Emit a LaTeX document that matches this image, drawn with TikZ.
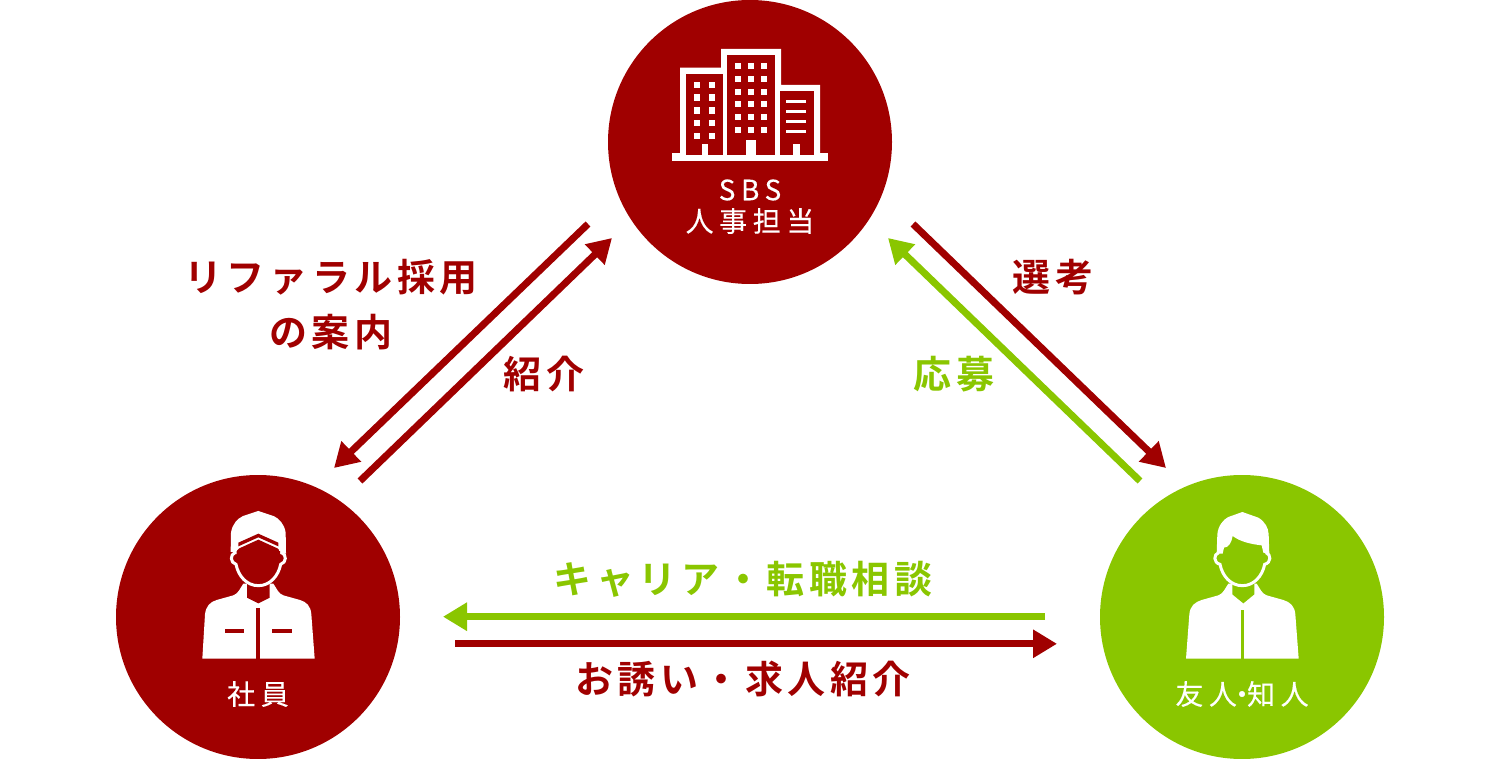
\documentclass[tikz,border=0pt]{standalone}
\usepackage{fontspec}
\usetikzlibrary{arrows.meta}
\newfontfamily\lblfont[LetterSpace=12]{Noto Sans CJK JP Bold}
\newfontfamily\capfont[LetterSpace=20,FakeBold=0.25]{Noto Sans CJK JP}
\definecolor{dred}{HTML}{A00000}
\definecolor{lgreen}{HTML}{8AC600}
\tikzset{
  hub/.style={circle,minimum size=142pt,inner sep=0pt,fill=#1},
  arr/.style={line width=3.5pt,draw=#1,-{Triangle[length=12pt,width=13.5pt]},shorten >=0pt},
  lbl/.style={font=\lblfont\fontsize{19pt}{23pt}\selectfont,text=#1,inner sep=0pt,align=center},
  captext/.style={font=\capfont\fontsize{14pt}{17pt}\selectfont,text=white,inner sep=0pt},
  zoomed/.style={x=0.16667pt,y=-0.16667pt},
}
\begin{document}
\begin{tikzpicture}[x=0.5pt,y=-0.5pt]
\useasboundingbox (0,0) rectangle (1500,759);
\node[hub=dred] (hr) at (750,142) {};
\node[hub=dred] (emp) at (258,617) {};
\node[hub=lgreen] (fr) at (1242,617) {};
% building
\begin{scope}[shift={(660,30)},zoomed]
\fill[white] (37,370) rectangle (503,392);
\fill[white] (60,375) -- (60,113) -- (183,113) -- (183,57) -- (363,57) -- (363,165) -- (480,165) -- (480,375) -- cycle;
\fill[dred] (78,132) rectangle (190,375);
\fill[dred] (202,76) rectangle (345,375);
\fill[dred] (359,184) rectangle (462,375);
\foreach \yy in {155,193,232,270,308} \foreach \xx in {101,146} \fill[white] (\xx,\yy) rectangle ++(19,19);
\foreach \yy in {100,138,176,214,252,290} \foreach \xx in {226,265,304} \fill[white] (\xx,\yy) rectangle ++(18,18);
\foreach \yy in {210,240,270,300} \fill[white] (378,\yy) rectangle (438,\yy+10);
\fill[white] (125,343) rectangle (144,375);
\fill[white] (259,331) rectangle (289,375);
\fill[white] (400,343) rectangle (419,375);
\end{scope}
% employee
\begin{scope}[shift={(180,501)},zoomed]
\fill[white] (67,473) -- (75,340) .. controls (78,315) and (90,303) .. (110,297) -- (160,283) .. controls (175,278) and (180,262) .. (190,248) -- (280,248) .. controls (290,262) and (295,278) .. (310,283) -- (360,297) .. controls (380,303) and (392,315) .. (394,340) -- (404,473) -- cycle;
\fill[dred] (201,246) -- (201,290) -- (235,307) -- (269,290) -- (269,246) -- cycle;
\fill[dred] (229,320) rectangle (240,475);
\fill[dred] (134,384) rectangle (193,395);
\fill[dred] (277,384) rectangle (336,395);
\fill[white,draw=white,line width=1pt] (155,150) -- (156,95) .. controls (160,70) and (175,55) .. (190,48) -- (235,33) -- (280,48) .. controls (295,55) and (310,70) .. (314,95) -- (315,155) -- cycle;
\filldraw[fill=dred,draw=white,line width=1.5pt] (165,155) .. controls (150,160) and (150,185) .. (168,190) .. controls (175,225) and (200,254) .. (235,254) .. controls (270,254) and (295,225) .. (302,190) .. controls (320,185) and (320,160) .. (305,155) -- cycle;
\fill[dred] (170,150) -- (178,142) -- (235,116) -- (292,142) -- (300,150) -- (300,170) -- (170,170) -- cycle;
\fill[dred] (175,125) -- (235,98) -- (295,125) -- (295,136) -- (235,109) -- (175,136) -- cycle;
\fill[white] (160,130) rectangle (172,150);
\fill[white] (298,130) rectangle (310,150);
\end{scope}
% friend
\begin{scope}[shift={(1160,501)},zoomed]
\fill[white] (78,473) -- (88,340) .. controls (90,315) and (105,303) .. (125,297) -- (175,283) .. controls (190,278) and (195,262) .. (205,248) -- (290,248) .. controls (300,262) and (305,278) .. (320,283) -- (370,297) .. controls (390,303) and (404,315) .. (406,340) -- (416,473) -- cycle;
\fill[lgreen] (217,246) -- (217,280) -- (250,307) -- (283,280) -- (283,246) -- cycle;
\fill[lgreen] (242,327) rectangle (252,475);
\fill[lgreen] (176,155) .. controls (160,160) and (160,185) .. (180,190) .. controls (187,225) and (212,254) .. (247,254) .. controls (282,254) and (307,225) .. (314,190) .. controls (334,185) and (334,160) .. (318,155) -- cycle;
\draw[white,line width=1.5pt] (176,155) .. controls (160,160) and (160,185) .. (180,190) .. controls (187,225) and (212,254) .. (247,254) .. controls (282,254) and (307,225) .. (314,190) .. controls (334,185) and (334,160) .. (318,155);
\fill[white] (170,158) -- (172,100) .. controls (174,75) and (190,55) .. (205,48) -- (247,33) -- (295,50) .. controls (315,62) and (325,80) .. (326,100) -- (328,160) -- (310,155) -- (305,133) .. controls (275,130) and (240,122) .. (218,105) .. controls (215,125) and (205,140) .. (192,140) -- (188,158) -- cycle;
\end{scope}
% texts in circles
\node[captext] (t1) at (750,190) {SBS};
\node[captext] (t2) at (750,221) {人事担当};
\node[captext] (t3) at (258,694) {社員};
\node[captext] (t4) at (1242,694) {友人\hspace{-.32em}・\hspace{-.32em}知人};
% arrows
\coordinate (a1) at (588,224); \coordinate (a2) at (334,468);
\coordinate (b1) at (360,481); \coordinate (b2) at (612,238);
\coordinate (c1) at (913,224); \coordinate (c2) at (1166,468);
\coordinate (d1) at (1140,481); \coordinate (d2) at (888,238);
\coordinate (e1) at (1045,616.7); \coordinate (e2) at (443,616.7);
\coordinate (f1) at (455,643.8); \coordinate (f2) at (1057,643.8);
\draw[arr=dred] (a1) -- (a2);
\draw[arr=dred] (b1) -- (b2);
\draw[arr=dred] (c1) -- (c2);
\draw[arr=lgreen] (d1) -- (d2);
\draw[arr=lgreen] (e1) -- (e2);
\draw[arr=dred] (f1) -- (f2);
% labels
\node[lbl=dred] (l1) at (331,277) {リファラル採用};
\node[lbl=dred] (l2) at (331,332) {の案内};
\node[lbl=dred] (l3) at (544,374) {紹介};
\node[lbl=dred] (l4) at (1053,277) {選考};
\node[lbl=lgreen] (l5) at (954,374) {応募};
\node[lbl=lgreen] (l6) at (743,579) {キャリア・転職相談};
\node[lbl=dred] (l7) at (743,679) {お誘い・求人紹介};
\end{tikzpicture}
\end{document}
